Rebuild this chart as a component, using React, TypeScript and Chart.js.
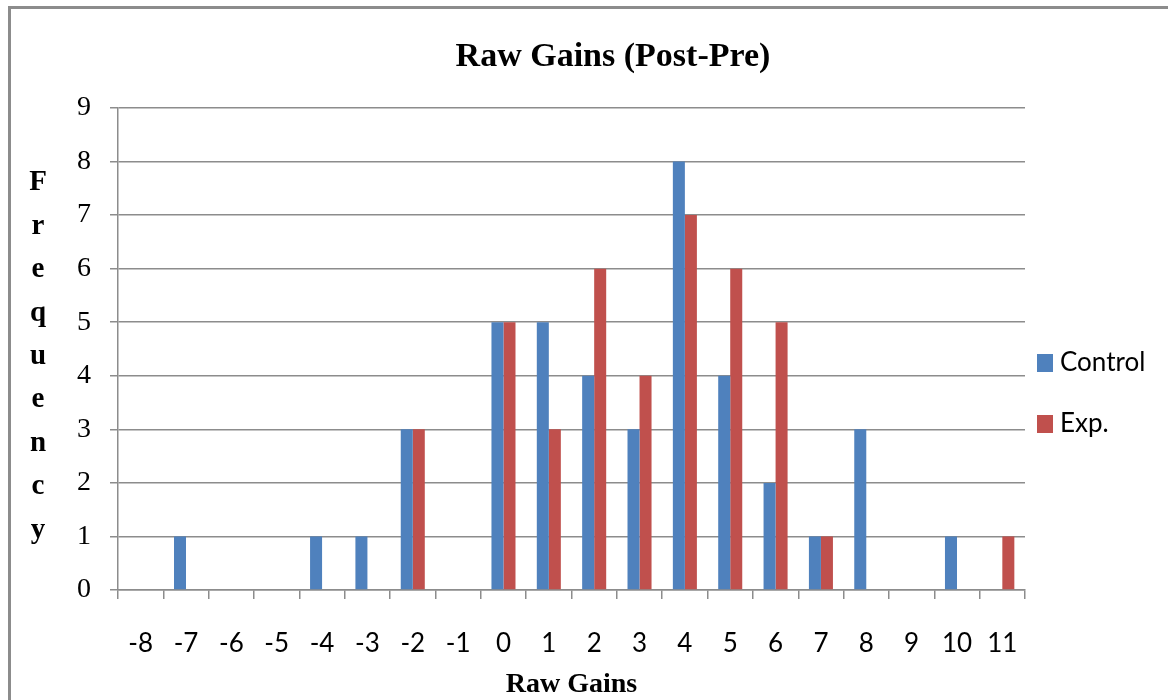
import React, { useEffect, useRef } from 'react';
import { Chart, registerables } from 'chart.js';

Chart.register(...registerables);

const categories = ['-8', '-7', '-6', '-5', '-4', '-3', '-2', '-1', '0', '1', '2', '3', '4', '5', '6', '7', '8', '9', '10', '11'];
const controlValues = [0, 1, 0, 0, 1, 1, 3, 0, 5, 5, 4, 3, 8, 4, 2, 1, 3, 0, 1, 0];
const expValues = [0, 0, 0, 0, 0, 0, 3, 0, 5, 3, 6, 4, 7, 6, 5, 1, 0, 0, 0, 1];
const seriesLabels = ['Control', 'Exp.'];
const seriesColors = ['#4F81BD', '#C0504D'];
const yMin = 0;
const yMax = 9;
const yStep = 1;
const titleText = 'Raw Gains (Post-Pre)';
const yTitleText = 'Frequency';
const xTitleText = 'Raw Gains';

const W = 1168;
const H = 700;

const decorPlugin = {
  id: 'decor',
  afterDraw(chart: any) {
    const ctx = chart.ctx as CanvasRenderingContext2D;
    ctx.save();
    // outer frame
    ctx.strokeStyle = '#8c8c8c';
    ctx.lineWidth = 3;
    ctx.strokeRect(9.5, 7.5, 1400, 1000);
    // title
    ctx.fillStyle = '#000';
    ctx.textAlign = 'center';
    ctx.textBaseline = 'middle';
    ctx.font = 'bold 34px "Liberation Serif"';
    ctx.fillText(titleText, 613, 57);
    // stacked vertical y title
    ctx.font = 'bold 29px "Liberation Serif"';
    yTitleText.split('').forEach((ch, i) => {
      ctx.fillText(ch, 38, 183 + i * 43.4);
    });
    // legend
    chart.data.datasets.forEach((ds: any, i: number) => {
      const cy = 363 + i * 61;
      ctx.fillStyle = ds.backgroundColor;
      ctx.fillRect(1037, cy - 9, 16, 18);
      ctx.fillStyle = '#000';
      ctx.textAlign = 'left';
      ctx.font = '26px Lato';
      ctx.fillText(ds.label, 1060, cy);
    });
    ctx.restore();
  },
};

export default function App() {
  const ref = useRef<HTMLCanvasElement | null>(null);

  useEffect(() => {
    if (!ref.current) return;
    const chart = new Chart(ref.current, {
      type: 'bar',
      data: {
        labels: categories,
        datasets: [
          { label: seriesLabels[0], data: controlValues, backgroundColor: seriesColors[0], barPercentage: 1, categoryPercentage: 0.53 },
          { label: seriesLabels[1], data: expValues, backgroundColor: seriesColors[1], barPercentage: 1, categoryPercentage: 0.53 },
        ],
      },
      options: {
        animation: false,
        responsive: false,
        devicePixelRatio: 1,
        layout: { padding: { top: 108, right: 143, left: 0, bottom: 0 } },
        plugins: {
          legend: { display: false },
          title: { display: false },
          tooltip: { enabled: false },
        },
        scales: {
          x: {
            grid: {
              offset: true,
              drawOnChartArea: false,
              drawTicks: true,
              tickLength: 9,
              color: '#8c8c8c',
              lineWidth: 1.5,
            },
            border: { display: true, color: '#8c8c8c', width: 1.5 },
            ticks: {
              color: '#000',
              font: { family: 'Lato', size: 26 },
              padding: 29,
              maxRotation: 0,
              autoSkip: false,
            },
            title: {
              display: true,
              text: xTitleText,
              color: '#000',
              font: { family: '"Liberation Serif"', size: 28, weight: 'bold' },
              padding: { top: 0, bottom: -2 },
            },
            afterFit(scale: any) {
              scale.height = 110;
            },
          },
          y: {
            min: yMin,
            max: yMax,
            ticks: {
              stepSize: yStep,
              color: '#000',
              font: { family: '"Liberation Serif"', size: 28 },
              padding: 19,
            },
            grid: {
              color: '#8c8c8c',
              lineWidth: 1.5,
              tickLength: 8,
            },
            border: { display: true, color: '#8c8c8c', width: 1.5 },
            afterFit(scale: any) {
              scale.width = 118;
            },
          },
        },
      },
      plugins: [decorPlugin],
    });
    return () => chart.destroy();
  }, []);

  return (
    <canvas
      ref={ref}
      width={W}
      height={H}
      style={{ position: 'absolute', left: 0, top: 0, width: W, height: H, background: '#fff' }}
    />
  );
}
